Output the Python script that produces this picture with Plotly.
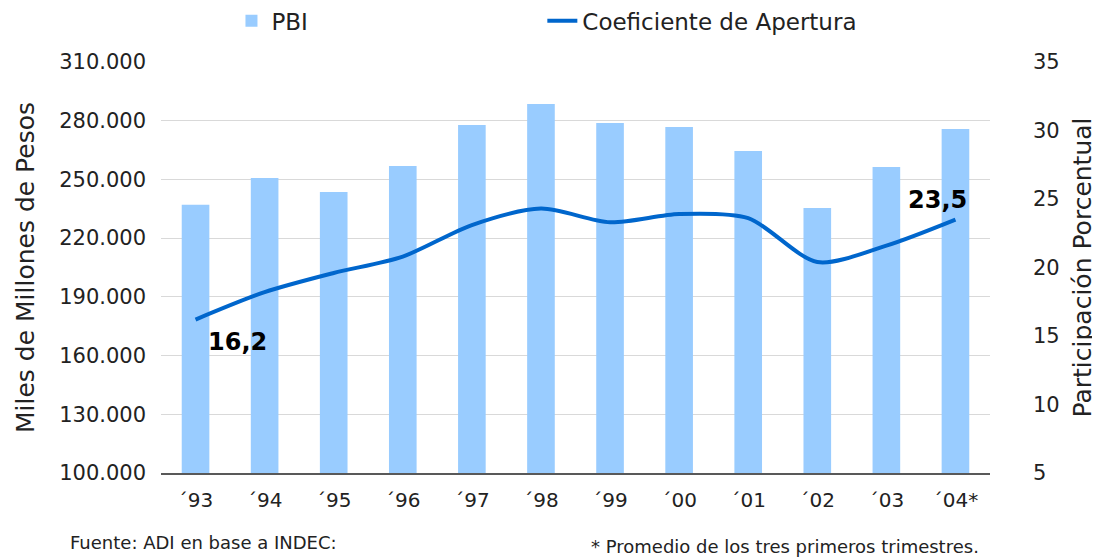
import plotly.graph_objects as go

years = ["´93", "´94", "´95", "´96", "´97", "´98", "´99", "´00", "´01", "´02", "´03", "´04*"]
pbi = [237000, 250700, 243600, 256900, 277800, 288500, 278800, 276800, 264500, 235400, 256300, 275800]
apertura = [16.2, 18.2, 19.6, 20.8, 23.1, 24.3, 23.3, 23.9, 23.6, 20.4, 21.6, 23.5]

FONT = "Verdana, DejaVu Sans, sans-serif"

fig = go.Figure()
fig.add_trace(go.Bar(
    x=years, y=[v - 100000 for v in pbi], base=100000,
    name="PBI", marker=dict(color="#99CCFF", line=dict(width=0)),
    width=0.4, legend="legend",
))
fig.add_trace(go.Scatter(
    x=years, y=apertura, yaxis="y2", mode="lines",
    name="Coeficiente de Apertura",
    line=dict(color="#0066CC", width=4, shape="spline", smoothing=0.8),
    legend="legend2",
))

# labels on first and last values
fig.add_annotation(x=years[0], y=apertura[0], yref="y2", text="<b>16,2</b>",
                   showarrow=False, xshift=42, yshift=-22,
                   font=dict(size=24, color="black", family=FONT))
fig.add_annotation(x=years[-1], y=apertura[-1], yref="y2", text="<b>23,5</b>",
                   showarrow=False, xshift=-18, yshift=20,
                   font=dict(size=24, color="black", family=FONT))

# footnotes
fig.add_annotation(x=0.051, y=-0.168, xref="paper", yref="paper", yanchor="middle",
                   xanchor="center", text="Fuente: ADI en base a INDEC:", showarrow=False,
                   font=dict(size=18, color="#222222", family=FONT))
fig.add_annotation(x=0.753, y=-0.18, xref="paper", yref="paper", yanchor="middle",
                   xanchor="center", text="* Promedio de los tres primeros trimestres.",
                   showarrow=False, font=dict(size=18, color="#222222", family=FONT))

legend_style = dict(
    orientation="h", xanchor="left", y=1.10, yanchor="middle",
    font=dict(size=23, family=FONT, color="#222222"),
    bgcolor="rgba(0,0,0,0)",
)

# page has an 8px body margin, so the figure is 8px smaller than the window
fig.update_layout(
    width=1092, height=550,
    margin=dict(l=153, r=110, t=54, b=85, autoexpand=False),
    plot_bgcolor="white", paper_bgcolor="white",
    separators=",.",
    font=dict(family=FONT, size=21, color="#222222"),
    showlegend=True,
    legend=dict(x=0.085, **legend_style),
    legend2=dict(x=0.46, **legend_style),
    xaxis=dict(
        showgrid=False, showline=True, linecolor="#595959", linewidth=1.5,
        ticks="", tickfont=dict(size=20), ticklabelstandoff=8,
    ),
    yaxis=dict(
        range=[100000, 310000], tickvals=[100000, 130000, 160000, 190000, 220000, 250000, 280000, 310000],
        tickformat=",.0f", showgrid=True, gridcolor="#D9D9D9", gridwidth=1.2,
        zeroline=False, showline=False, ticks="", ticklabelstandoff=14,
        title=dict(text="Miles de Millones de Pesos", font=dict(size=25), standoff=17),
        tickfont=dict(size=21),
    ),
    yaxis2=dict(
        overlaying="y", side="right", range=[5, 35], dtick=5,
        showgrid=False, zeroline=False, showline=False, ticks="",
        title=dict(text="Participación Porcentual", font=dict(size=25), standoff=14),
        tickfont=dict(size=21), ticklabelstandoff=42,
    ),
)

fig.write_html("out.html")
